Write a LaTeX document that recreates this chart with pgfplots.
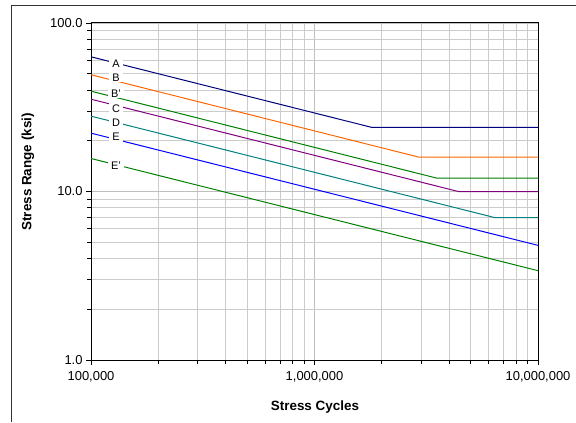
\documentclass[border=0pt]{standalone}
\usepackage{fontspec}
\setmainfont{Liberation Sans}
\usepackage{pgfplots}
\pgfplotsset{compat=1.18}
\definecolor{cA}{HTML}{000080}
\definecolor{cB}{HTML}{FF6600}
\definecolor{cBp}{HTML}{008000}
\definecolor{cC}{HTML}{800080}
\definecolor{cD}{HTML}{008080}
\definecolor{cE}{HTML}{0000FF}
\definecolor{cEp}{HTML}{008000}
\begin{document}
\begin{tikzpicture}[x=1bp,y=1bp]
\useasboundingbox (0,0) rectangle (576,422);
\draw[line width=1bp, black!80] (11,0) -- (11,416) -- (576,416);
\begin{axis}[
  at={(91bp,62bp)}, anchor=south west,
  scale only axis, width=447bp, height=337bp,
  xmode=log, ymode=log,
  xmin=1e5, xmax=1e7, ymin=1, ymax=100,
  xtick={1e5,1e6,1e7},
  xticklabels={{100,000},{1,000,000},{10,000,000}},
  ytick={1,10,100},
  yticklabels={1.0,10.0,100.0},
  tick pos=left,
  grid=both,
  major grid style={color=gray!50, line width=0.8bp},
  minor grid style={color=gray!40, line width=0.8bp},
  tick align=outside,
  major tick length=5bp, minor tick length=4bp,
  tick style={black, line width=0.8bp},
  axis line style={black, line width=1bp},
  ticklabel style={font=\fontsize{13}{15}\selectfont},
  xticklabel style={yshift=-3bp},
  xlabel={Stress Cycles},
  ylabel={Stress Range (ksi)},
  label style={font=\fontsize{13.5}{16}\selectfont\bfseries},
  xlabel style={at={(rel axis cs:0.501,-0.139)}, anchor=center},
  ylabel style={at={(rel axis cs:-0.141,0.558)}, anchor=center},
  every axis plot/.append style={line width=1bp},
]
\addplot[cA] coordinates {(1e5,63.0) (1.808e6,24) (1e7,24)};
\addplot[cB] coordinates {(1e5,49.3) (2.93e6,16) (1e7,16)};
\addplot[cBp] coordinates {(1e5,39.4) (3.53e6,12) (1e7,12)};
\addplot[cC] coordinates {(1e5,35.3) (4.4e6,10) (1e7,10)};
\addplot[cD] coordinates {(1e5,28.0) (6.41e6,7) (1e7,7)};
\addplot[cE] coordinates {(1e5,22.2) (1e7,4.79)};
\addplot[cEp] coordinates {(1e5,15.7) (1e7,3.39)};
\begin{scope}[every node/.style={fill=white, inner xsep=3.5bp, inner ysep=1bp, font=\fontsize{11}{12}\selectfont}]
\node at (axis cs:129400,57.1) {A};
\node at (axis cs:129400,47.4) {B};
\node at (axis cs:129400,38.3) {B'};
\node at (axis cs:129400,31.2) {C};
\node at (axis cs:129400,25.6) {D};
\node at (axis cs:129400,21.0) {E};
\node at (axis cs:129400,14.2) {E'};
\end{scope}
\end{axis}
\end{tikzpicture}
\end{document}
